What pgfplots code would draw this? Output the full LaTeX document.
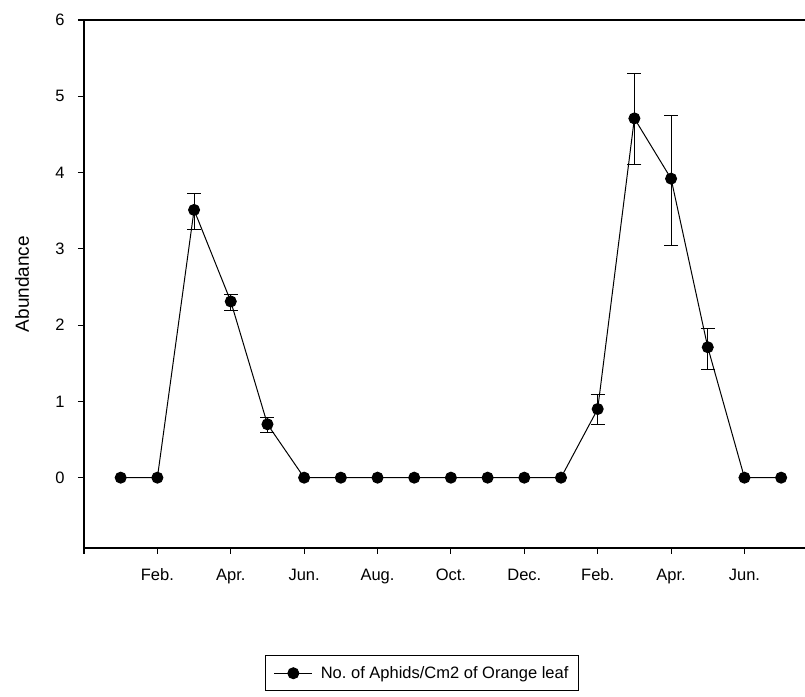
\documentclass[border=0pt]{standalone}
\usepackage{fontspec}
\setmainfont{Liberation Sans}
\usepackage{pgfplots}
\usepackage{pgfplotstable}
\pgfplotsset{compat=1.18}
\frenchspacing
\pgfplotstableread{
x y ep em
0 0 0 0
1 0 0 0
2 3.51 0.22 0.25
3 2.31 0.09 0.12
4 0.70 0.09 0.11
5 0 0 0
6 0 0 0
7 0 0 0
8 0 0 0
9 0 0 0
10 0 0 0
11 0 0 0
12 0 0 0
13 0.90 0.19 0.20
14 4.71 0.59 0.61
15 3.92 0.83 0.87
16 1.71 0.25 0.29
17 0 0 0
18 0 0 0
}\datatable
\pgfplotstableread{
x y ep em
2 3.51 0.22 0.25
3 2.31 0.09 0.12
4 0.70 0.09 0.11
13 0.90 0.19 0.20
14 4.71 0.59 0.61
15 3.92 0.83 0.87
16 1.71 0.25 0.29
}\errtable
\begin{document}
\frenchspacing
\begin{tikzpicture}
\useasboundingbox (0,0) rectangle (805bp,697bp);
\begin{axis}[
  at={(84bp,149bp)}, anchor=south west,
  scale only axis, width=721bp, height=528bp,
  xmin=-1, xmax=18.65, ymin=-0.922, ymax=6,
  axis x line=box, axis y line=left,
  axis line style={-, line width=1.2bp},
  xtick pos=left, ytick pos=left,
  tick align=outside,
  major tick length=6bp,
  every tick/.style={black, line width=1.1bp},
  xtick={-1,1,3,5,7,9,11,13,15,17},
  xticklabels={,Feb.,Apr.,Jun.,Aug.,Oct.,Dec.,Feb.,Apr.,Jun.},
  ytick={0,1,2,3,4,5,6},
  /pgf/number format/assume math mode=true,
  tick label style={font=\fontsize{16.5bp}{19bp}\selectfont},
  xticklabel style={yshift=-11bp, text height=12bp, text depth=3bp},
  yticklabel style={xshift=-10bp},
  ylabel={Abundance},
  ylabel style={font=\fontsize{19bp}{22bp}\selectfont,
    at={(axis description cs:-0.086,0.5)}, anchor=center},
  legend style={at={(0.469,-0.2027)}, anchor=north, draw=black, line width=1bp,
    font=\fontsize{16.5bp}{19bp}\selectfont, inner xsep=8bp, inner ysep=9bp},
  legend cell align=left,
  legend image code/.code={%
    \draw[line width=1bp] (-2bp,0bp) -- (36bp,0bp);
    \fill[black] (17bp,0bp) circle (5.5bp);
    \path (42bp,0bp);},
]
\addplot[black, line width=1bp, only marks, mark=none, forget plot,
  error bars/.cd, y dir=both, y explicit,
  error bar style={line width=1bp, black},
  error mark options={rotate=90, mark size=7bp, line width=1bp, black}]
  table[x=x, y=y, y error plus=ep, y error minus=em] {\errtable};
\addplot[black, line width=1bp, mark=*, mark size=5.5bp,
  mark options={fill=black, draw=black}]
  table[x=x, y=y] {\datatable};
\addlegendentry{No. of Aphids/Cm2 of Orange leaf}
\end{axis}
\end{tikzpicture}
\end{document}
